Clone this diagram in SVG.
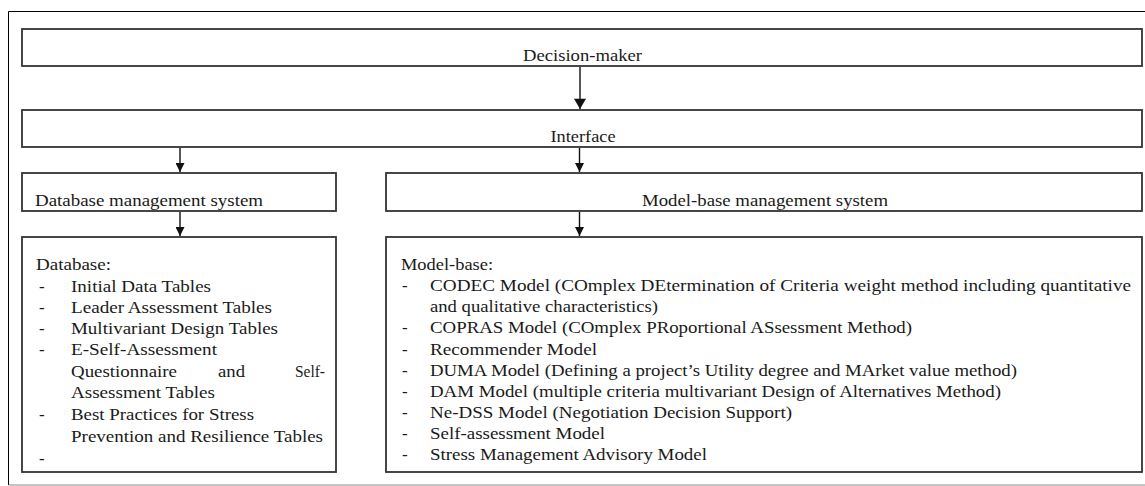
<svg xmlns="http://www.w3.org/2000/svg" width="1145" height="486" viewBox="0 0 1145 486">
<defs>
<style>
.box{fill:#fff;stroke:#333;stroke-width:1.8}
.conn{stroke:#111;stroke-width:1.4;fill:none}
</style>
<marker id="ahBig" markerWidth="14" markerHeight="12" refX="12" refY="7" orient="auto" markerUnits="userSpaceOnUse" viewBox="0 0 14 14">
<path d="M0,0 L12,7 L0,14 Z" fill="#111"/>
</marker>
<marker id="ahS" markerWidth="9" markerHeight="9" refX="9" refY="4.5" orient="auto" markerUnits="userSpaceOnUse" viewBox="0 0 9 9">
<path d="M0,0 L9,4.5 L0,9 Z" fill="#111"/>
</marker>
</defs>
<rect width="1145" height="486" fill="#fff"/>
<g id="frame">
<line x1="8.5" y1="11.5" x2="1145" y2="11.5" stroke="#000" stroke-width="1"/>
<line x1="8.5" y1="11.5" x2="8.5" y2="485" stroke="#000" stroke-width="1"/>
<line x1="8.5" y1="485" x2="1145" y2="485" stroke="#888" stroke-width="1"/>
</g>
<g font-family="Liberation Serif" font-size="17" fill="#1a1a1a">
<g id="decision-maker">
<rect class="box" x="22" y="29" width="1120" height="37"/>
<text x="582.5" y="61" text-anchor="middle" textLength="119" lengthAdjust="spacingAndGlyphs">Decision-maker</text>
</g>
<g id="interface">
<rect class="box" x="22" y="110" width="1120" height="37"/>
<text x="583" y="142" text-anchor="middle" textLength="65" lengthAdjust="spacingAndGlyphs">Interface</text>
</g>
<g id="dbms">
<rect class="box" x="22" y="173" width="314" height="38"/>
<text x="35" y="206" textLength="228" lengthAdjust="spacingAndGlyphs">Database management system</text>
</g>
<g id="mbms">
<rect class="box" x="386" y="173" width="756" height="38"/>
<text x="642" y="206" textLength="246" lengthAdjust="spacingAndGlyphs">Model-base management system</text>
</g>
<g id="database">
<rect class="box" x="22" y="237" width="314" height="235"/>
<text x="36" y="270" textLength="75" lengthAdjust="spacingAndGlyphs">Database:</text>
<text x="39" y="291.5">-</text>
<text x="71" y="291.5" textLength="140" lengthAdjust="spacingAndGlyphs">Initial Data Tables</text>
<text x="39" y="313">-</text>
<text x="71" y="313" textLength="201" lengthAdjust="spacingAndGlyphs">Leader Assessment Tables</text>
<text x="39" y="334">-</text>
<text x="71" y="334" textLength="207" lengthAdjust="spacingAndGlyphs">Multivariant Design Tables</text>
<text x="39" y="355">-</text>
<text x="71" y="355" textLength="146" lengthAdjust="spacingAndGlyphs">E-Self-Assessment</text>
<text x="71" y="377" textLength="106" lengthAdjust="spacingAndGlyphs">Questionnaire</text>
<text x="218" y="377" textLength="27" lengthAdjust="spacingAndGlyphs">and</text>
<text x="295" y="377" textLength="30" lengthAdjust="spacingAndGlyphs">Self-</text>
<text x="71" y="398" textLength="144" lengthAdjust="spacingAndGlyphs">Assessment Tables</text>
<text x="39" y="420">-</text>
<text x="71" y="420" textLength="183" lengthAdjust="spacingAndGlyphs">Best Practices for Stress</text>
<text x="71" y="442" textLength="252" lengthAdjust="spacingAndGlyphs">Prevention and Resilience Tables</text>
<text x="39" y="464">-</text>
</g>
<g id="model-base">
<rect class="box" x="386" y="237" width="756" height="235"/>
<text x="401" y="270" textLength="92" lengthAdjust="spacingAndGlyphs">Model-base:</text>
<text x="402" y="291">-</text>
<text x="430" y="291" textLength="701" lengthAdjust="spacingAndGlyphs">CODEC Model (COmplex DEtermination of Criteria weight method including quantitative</text>
<text x="430" y="312" textLength="228" lengthAdjust="spacingAndGlyphs">and qualitative characteristics)</text>
<text x="402" y="333">-</text>
<text x="430" y="333" textLength="482" lengthAdjust="spacingAndGlyphs">COPRAS Model (COmplex PRoportional ASsessment Method)</text>
<text x="402" y="354.5">-</text>
<text x="430" y="354.5" textLength="167" lengthAdjust="spacingAndGlyphs">Recommender Model</text>
<text x="402" y="375.5">-</text>
<text x="430" y="375.5" textLength="587" lengthAdjust="spacingAndGlyphs">DUMA Model (Defining a project’s Utility degree and MArket value method)</text>
<text x="402" y="396.5">-</text>
<text x="430" y="396.5" textLength="571" lengthAdjust="spacingAndGlyphs">DAM Model (multiple criteria multivariant Design of Alternatives Method)</text>
<text x="402" y="417.5">-</text>
<text x="430" y="417.5" textLength="362" lengthAdjust="spacingAndGlyphs">Ne-DSS Model (Negotiation Decision Support)</text>
<text x="402" y="439">-</text>
<text x="430" y="439" textLength="175" lengthAdjust="spacingAndGlyphs">Self-assessment Model</text>
<text x="402" y="460">-</text>
<text x="430" y="460" textLength="277" lengthAdjust="spacingAndGlyphs">Stress Management Advisory Model</text>
</g>
</g>
<g id="connectors">
<line class="conn" x1="580" y1="66.9" x2="580" y2="109" marker-end="url(#ahBig)"/>
<line class="conn" x1="180" y1="147.9" x2="180" y2="172" marker-end="url(#ahS)"/>
<line class="conn" x1="579.5" y1="147.9" x2="579.5" y2="172" marker-end="url(#ahS)"/>
<line class="conn" x1="180" y1="211.9" x2="180" y2="236" marker-end="url(#ahS)"/>
<line class="conn" x1="579.5" y1="211.9" x2="579.5" y2="236" marker-end="url(#ahS)"/>
</g>
</svg>
